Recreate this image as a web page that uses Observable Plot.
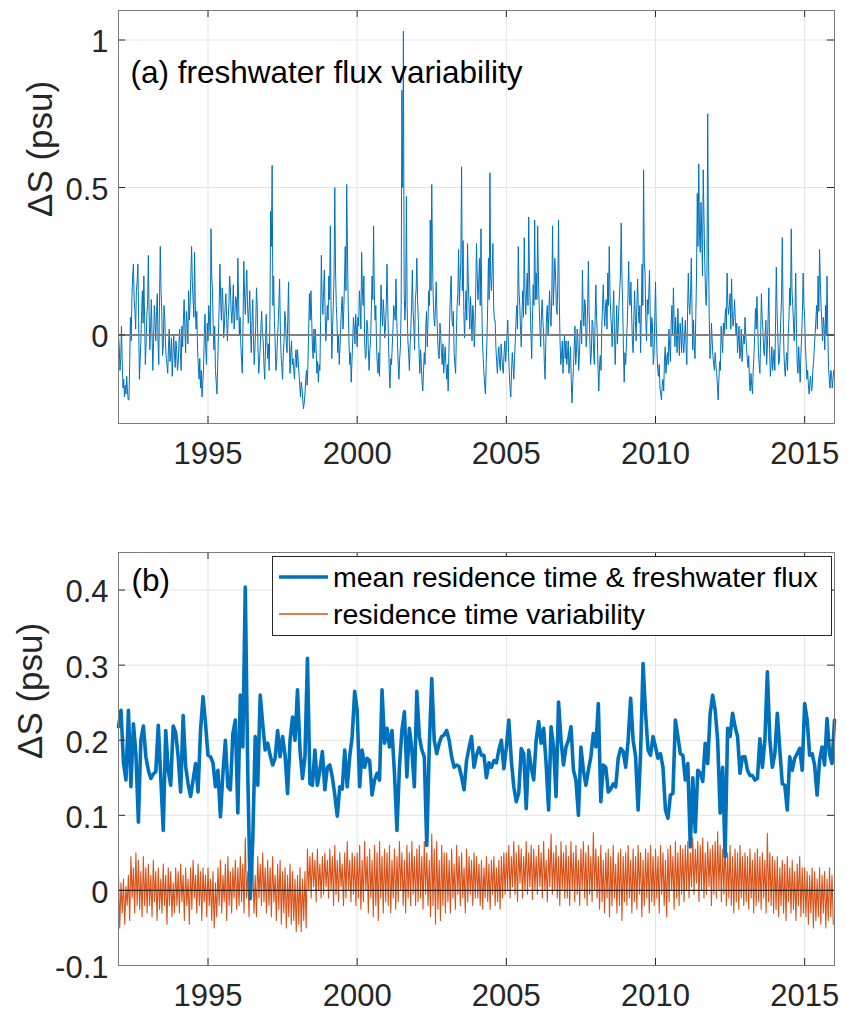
<!DOCTYPE html>
<html>
<head>
<meta charset="utf-8">
<script src="https://cdn.jsdelivr.net/npm/d3@7"></script>
<script src="https://cdn.jsdelivr.net/npm/@observablehq/plot@0.6"></script>
<style>
  html, body { margin: 0; padding: 0; background: #fff; }
  body { width: 846px; height: 1013px; position: relative; overflow: hidden;
         font-family: "Liberation Sans", Arial, Helvetica, sans-serif; }
  #panelA { position: absolute; left: 0; top: 0; }
  #panelB { position: absolute; left: 0; top: 490px; }
  #legend { position: absolute; left: 272px; top: 556px; }
</style>
</head>
<body>
<div id="panelA"></div>
<div id="panelB"></div>
<svg id="legend" width="561" height="80"></svg>
<script>
// ---------------- data ----------------
const startYear = 1992;
const yearTicks = [1995, 2000, 2005, 2010, 2015];
const fluxTicks = [0, 0.5, 1];
const resTicks = [-0.1, 0, 0.1, 0.2, 0.3, 0.4];
const panelTitles = ["(a) freshwater flux variability", "(b)"];
const yLabel = "ΔS (psu)";
const seriesNames = ["mean residence time & freshwater flux", "residence time variability"];
const seriesColors = ["#0072BD", "#D95319"];

// (a) freshwater flux variability: one row per year, 1992 … 2015
const fluxVar = [
  [0.0,-0.04,-0.12,-0.08,0.03,-0.09,-0.18,-0.15,-0.21,-0.17,-0.2,-0.14,-0.19,-0.22,-0.22,-0.1,0.06,-0.02,0.13,0.2,0.24,0.12,0.08,0.02,0.15,0.18,0.24,0.05,-0.15,-0.09,-0.02,0.08,0.15,0.04,0.2,0.06,-0.1,-0.03,0.07,0.1],
  [0.27,0.08,-0.05,0.02,0.12,0.0,-0.12,-0.03,0.1,0.05,-0.02,0.08,0.14,-0.02,-0.1,0.12,0.3,0.15,0.08,-0.07,-0.04,0.1,0.06,-0.03,-0.08,-0.1,-0.13,-0.04,0.02,-0.09,-0.06,-0.01,-0.14,-0.07,0.0,-0.06,-0.11,-0.02,-0.05,-0.12],
  [-0.1,-0.03,0.02,-0.06,-0.12,0.03,-0.04,0.05,0.12,0.02,-0.06,0.08,0.04,-0.03,0.15,0.05,0.1,0.2,0.3,0.18,0.12,0.06,0.28,0.1,0.02,0.08,-0.05,-0.1,-0.15,-0.08,-0.18,-0.12,-0.21,-0.16,-0.12,0.0,0.07,-0.05,-0.1,0.04],
  [-0.02,0.1,0.05,0.0,0.36,0.2,0.15,0.02,-0.05,0.03,-0.12,-0.16,-0.2,-0.1,0.0,0.1,0.24,0.12,0.05,0.16,0.12,-0.01,0.03,0.1,0.14,0.06,-0.02,0.05,0.1,0.2,0.16,0.08,0.04,0.1,0.17,0.02,0.07,0.13,0.12,0.05],
  [0.26,0.12,0.0,0.06,-0.03,-0.09,-0.13,0.05,0.25,0.14,0.07,0.15,0.22,0.1,0.04,0.08,0.15,0.02,-0.06,0.05,0.12,-0.02,-0.1,-0.04,0.03,0.16,0.1,-0.05,-0.13,-0.09,-0.04,0.03,0.08,0.0,-0.02,-0.1,-0.15,-0.05,0.07,-0.02],
  [-0.08,-0.03,-0.12,0.05,0.42,0.3,0.575,0.1,0.2,0.05,-0.02,-0.12,-0.1,-0.02,0.03,0.1,0.19,0.02,-0.07,-0.11,-0.15,-0.06,-0.02,0.08,0.05,-0.03,-0.06,0.06,0.18,-0.02,-0.13,-0.06,-0.02,-0.1,-0.08,-0.12,-0.15,-0.08,-0.05,-0.11],
  [-0.05,-0.09,-0.13,-0.17,-0.21,-0.16,-0.18,-0.22,-0.25,-0.23,-0.2,-0.15,-0.12,-0.17,-0.1,0.02,0.14,0.05,0.15,0.06,-0.04,-0.08,0.02,-0.06,0.02,-0.05,-0.13,-0.09,-0.16,-0.1,-0.12,0.05,0.27,0.12,0.07,0.15,0.22,0.08,-0.02,0.04],
  [0.1,0.05,0.2,0.12,0.37,0.1,-0.08,0.02,0.1,0.2,0.5,0.22,0.1,0.04,-0.06,0.0,-0.1,-0.04,0.03,0.1,0.13,0.02,0.08,0.18,0.3,0.15,0.51,0.28,0.1,-0.02,-0.1,-0.06,-0.16,-0.09,-0.02,0.06,0.03,-0.03,0.07,0.02],
  [-0.04,0.06,0.03,0.15,0.1,0.02,0.28,0.16,0.1,0.2,-0.02,-0.08,-0.07,0.05,0.03,-0.05,-0.12,-0.05,-0.02,0.08,0.2,0.12,0.37,0.15,0.05,0.1,-0.04,-0.1,-0.13,-0.06,-0.14,0.02,0.17,0.08,0.03,0.12,0.07,-0.01,0.03,0.1],
  [0.24,0.1,-0.02,-0.12,-0.18,-0.08,-0.1,-0.04,0.02,0.1,0.08,0.05,0.19,0.06,-0.02,-0.1,-0.15,-0.08,-0.04,0.1,0.83,0.5,1.03,0.15,0.05,0.12,0.47,0.1,-0.02,-0.06,-0.12,-0.03,0.02,0.1,0.22,0.08,0.03,-0.05,0.12,0.15],
  [0.26,0.12,0.05,-0.06,-0.13,-0.05,-0.1,-0.16,-0.19,-0.12,-0.06,-0.1,0.03,0.08,-0.04,0.05,0.15,0.1,0.39,0.15,0.51,0.25,0.12,0.06,0.03,0.1,0.18,0.06,-0.02,-0.07,-0.08,0.04,0.0,-0.06,-0.1,-0.03,-0.13,-0.08,-0.04,-0.1],
  [-0.15,-0.1,-0.19,-0.06,0.05,0.14,0.2,0.06,0.03,0.08,-0.06,-0.1,-0.13,0.0,0.1,0.14,0.29,0.1,0.18,0.25,0.57,0.15,0.32,0.08,-0.01,0.08,0.15,0.05,0.31,0.18,0.1,0.02,0.13,0.06,-0.02,0.1,0.07,-0.04,0.03,0.15],
  [0.31,0.2,0.12,0.18,0.26,0.1,0.36,0.12,-0.02,-0.08,-0.13,-0.17,-0.2,-0.1,-0.02,0.1,0.26,0.12,0.55,0.2,0.15,0.22,0.31,0.1,0.05,0.05,-0.04,-0.09,-0.13,-0.07,-0.04,-0.1,-0.12,-0.03,-0.07,-0.11,-0.13,-0.06,-0.02,-0.09],
  [-0.05,0.0,0.05,-0.06,-0.13,-0.18,-0.21,-0.12,-0.06,-0.1,-0.15,-0.08,-0.02,0.05,0.1,0.02,0.3,0.15,0.1,0.02,-0.04,0.08,0.15,0.06,0.33,0.15,0.07,0.14,0.21,0.1,0.4,0.2,0.1,0.0,-0.08,0.05,0.17,0.1,0.39,0.12],
  [0.21,0.12,0.37,0.2,0.1,0.03,-0.04,0.06,0.12,0.05,0.0,-0.1,-0.15,-0.02,0.07,0.1,0.0,0.08,0.15,0.05,0.03,0.14,0.37,0.1,0.17,0.26,0.2,0.1,0.07,0.18,0.39,0.12,-0.02,-0.1,-0.07,-0.02,-0.13,-0.06,0.0,-0.08],
  [-0.02,-0.1,-0.07,-0.02,-0.13,-0.09,-0.04,-0.15,-0.23,-0.17,-0.11,-0.04,0.03,-0.1,-0.06,0.02,-0.02,-0.12,-0.07,0.02,0.05,-0.03,0.22,0.08,0.03,0.12,0.1,-0.04,0.0,0.1,0.25,0.08,-0.02,-0.1,-0.06,0.05,0.04,-0.05,-0.1,0.05],
  [0.17,0.06,0.0,-0.12,-0.19,-0.1,-0.07,-0.12,0.03,0.1,0.17,0.08,0.03,0.1,0.12,0.02,0.21,0.1,0.3,0.14,0.07,0.02,-0.04,0.08,0.15,0.0,-0.1,0.0,0.1,-0.03,0.03,0.1,0.15,0.2,0.38,0.2,0.1,-0.05,-0.16,-0.06],
  [-0.1,-0.03,0.03,0.12,0.25,0.12,0.1,0.18,0.07,-0.02,-0.06,0.06,0.15,0.05,-0.02,0.1,0.19,0.08,0.04,0.1,-0.06,0.08,0.24,0.1,0.56,0.25,0.21,0.05,-0.02,0.12,0.07,0.14,0.22,0.06,-0.04,0.06,0.03,-0.1,-0.07,0.05],
  [0.18,0.04,-0.06,-0.12,-0.14,-0.1,-0.18,-0.2,-0.22,-0.17,-0.15,-0.19,-0.09,-0.04,-0.13,-0.08,-0.06,-0.1,0.02,-0.04,-0.09,0.04,0.1,0.0,0.16,0.05,-0.04,0.06,0.0,-0.06,0.09,0.0,-0.07,0.04,0.0,-0.06,0.06,-0.03,-0.06,0.0],
  [0.05,-0.04,-0.1,0.08,0.21,0.1,0.07,0.14,0.26,0.08,-0.05,0.05,-0.04,-0.08,0.06,0.2,0.48,0.3,0.58,0.35,0.28,0.45,0.34,0.2,0.56,0.4,0.25,0.15,0.1,0.2,0.75,0.3,0.07,-0.08,-0.05,0.04,-0.02,-0.07,-0.1,-0.12],
  [-0.06,-0.1,-0.13,-0.17,-0.22,-0.15,-0.09,-0.12,0.03,-0.02,-0.06,0.04,0.0,0.05,0.09,0.02,0.21,0.1,0.07,0.1,0.14,0.02,0.19,0.08,0.03,0.06,0.12,0.05,0.0,0.04,-0.06,-0.02,0.03,-0.08,-0.06,0.02,-0.09,-0.04,0.0,-0.03],
  [0.06,0.0,-0.04,-0.08,-0.11,-0.07,-0.16,-0.19,-0.13,-0.17,-0.2,-0.12,-0.07,0.0,0.09,0.02,0.13,0.04,-0.06,-0.1,-0.13,0.0,0.14,0.06,0.02,-0.05,-0.07,0.0,0.05,-0.1,-0.04,0.06,0.16,-0.05,-0.14,-0.1,-0.04,-0.12,-0.09,-0.05],
  [-0.12,0.05,0.23,0.08,0.0,-0.1,-0.09,-0.03,0.06,0.12,0.33,0.1,-0.04,-0.11,-0.14,-0.09,-0.06,-0.12,0.0,0.06,0.16,0.1,0.36,0.15,0.1,0.04,-0.02,0.08,0.21,0.02,-0.1,-0.13,-0.04,-0.1,-0.16,-0.06,0.0,0.08,0.21,0.1],
  [0.06,-0.04,-0.09,-0.15,-0.12,-0.17,-0.2,-0.16,-0.14,-0.19,-0.18,-0.12,-0.09,-0.04,0.0,0.05,0.1,0.02,0.2,0.08,0.29,0.18,0.1,0.04,-0.02,0.06,0.03,-0.05,0.1,0.0,0.2,0.02,-0.11,-0.15,-0.18,-0.12,-0.13,-0.18,-0.15,-0.12]
];

// (b) mean residence time & freshwater flux: monthly from Jan 1992 (last value Jan 2016)
const meanRes = [
  0.218,0.24,0.17,0.147,0.24,0.138,0.222,0.182,0.091,0.2,0.219,0.178,
  0.16,0.149,0.155,0.158,0.22,0.15,0.08,0.213,0.16,0.14,0.219,0.21,
  0.178,0.131,0.233,0.165,0.142,0.125,0.147,0.169,0.131,0.213,0.258,0.222,
  0.18,0.178,0.17,0.138,0.16,0.098,0.156,0.2,0.138,0.134,0.209,0.227,
  0.103,0.26,0.191,0.404,0.156,-0.011,0.067,0.205,0.14,0.26,0.222,0.187,
  0.196,0.18,0.167,0.176,0.213,0.178,0.205,0.18,0.129,0.2,0.231,0.2,
  0.267,0.187,0.149,0.178,0.309,0.142,0.14,0.187,0.14,0.16,0.185,0.134,
  0.164,0.167,0.151,0.127,0.099,0.138,0.135,0.187,0.138,0.178,0.205,0.265,
  0.24,0.138,0.187,0.164,0.176,0.173,0.127,0.147,0.156,0.147,0.267,0.196,
  0.216,0.191,0.213,0.156,0.08,0.164,0.213,0.238,0.151,0.216,0.187,0.138,
  0.265,0.205,0.187,0.178,0.06,0.191,0.282,0.2,0.182,0.196,0.205,0.207,
  0.213,0.2,0.178,0.164,0.167,0.165,0.151,0.134,0.173,0.19,0.205,0.164,
  0.18,0.19,0.18,0.18,0.15,0.17,0.164,0.173,0.17,0.187,0.2,0.162,
  0.19,0.227,0.173,0.138,0.118,0.13,0.189,0.182,0.109,0.187,0.164,0.147,
  0.2,0.225,0.196,0.216,0.169,0.107,0.218,0.191,0.125,0.251,0.2,0.167,
  0.191,0.2,0.218,0.16,0.147,0.1,0.191,0.16,0.14,0.16,0.178,0.209,
  0.191,0.249,0.118,0.167,0.164,0.131,0.135,0.142,0.138,0.176,0.189,0.185,
  0.164,0.2,0.256,0.2,0.178,0.107,0.182,0.302,0.236,0.187,0.18,0.205,
  0.191,0.176,0.182,0.164,0.107,0.096,0.127,0.129,0.227,0.205,0.182,0.18,
  0.147,0.169,0.058,0.15,0.078,0.16,0.156,0.145,0.196,0.169,0.236,0.26,
  0.24,0.2,0.103,0.164,0.045,0.216,0.205,0.236,0.218,0.205,0.156,0.178,
  0.178,0.16,0.153,0.153,0.147,0.149,0.202,0.164,0.2,0.291,0.2,0.164,
  0.182,0.236,0.187,0.142,0.14,0.107,0.178,0.16,0.176,0.182,0.189,0.16,
  0.249,0.227,0.18,0.182,0.167,0.127,0.173,0.191,0.167,0.229,0.182,0.169,
  0.227
];

// (b) residence time variability: one row per year, 1992 … 2015
const resVar = [
  [0.02,-0.05,0.01,-0.03,0.015,-0.045,0.005,-0.02,0.02,-0.04,0.045,-0.01,0.03,-0.03,0.05,-0.02,0.04,-0.025,0.025,-0.035,0.045,-0.02,0.03,-0.03],
  [0.035,-0.02,0.02,-0.035,0.04,-0.015,0.025,-0.04,0.03,-0.025,0.015,-0.03,0.035,-0.02,0.02,-0.045,0.03,-0.02,0.025,-0.035,0.01,-0.03,0.03,-0.02],
  [0.025,-0.03,0.035,-0.015,0.02,-0.04,0.03,-0.02,0.015,-0.045,0.03,-0.025,0.04,-0.01,0.02,-0.03,0.035,-0.02,0.025,-0.04,0.03,-0.015,0.02,-0.035],
  [0.03,-0.02,0.015,-0.04,0.025,-0.05,0.01,-0.035,0.03,-0.02,0.04,-0.03,0.02,-0.015,0.035,-0.04,0.045,-0.02,0.025,-0.03,0.03,-0.01,0.04,-0.025],
  [0.03,-0.02,0.045,-0.015,0.035,-0.03,0.07,-0.01,0.025,-0.035,0.05,0.0,0.04,-0.03,0.02,-0.035,0.045,-0.01,0.035,-0.02,0.05,-0.015,0.03,-0.03],
  [0.04,-0.02,0.03,-0.035,0.045,-0.015,0.02,-0.04,0.035,-0.025,0.04,-0.045,0.025,-0.03,0.03,-0.05,0.02,-0.035,0.035,-0.045,0.025,-0.04,0.015,-0.055],
  [0.02,-0.045,0.03,-0.055,0.015,-0.04,0.025,-0.05,0.055,0.0,0.045,-0.01,0.05,0.005,0.04,-0.015,0.055,0.0,0.035,-0.01,0.045,-0.005,0.05,0.005],
  [0.04,-0.01,0.055,0.0,0.045,-0.02,0.06,-0.005,0.04,-0.015,0.05,0.005,0.035,-0.02,0.05,-0.01,0.065,0.0,0.04,-0.015,0.05,-0.005,0.045,-0.02],
  [0.05,-0.01,0.06,-0.025,0.04,-0.015,0.065,0.0,0.045,-0.03,0.055,-0.01,0.04,-0.035,0.06,-0.02,0.05,-0.04,0.065,-0.01,0.045,-0.03,0.055,-0.015],
  [0.05,-0.02,0.06,-0.03,0.04,-0.01,0.055,-0.025,0.045,-0.015,0.065,0.0,0.05,-0.02,0.04,-0.03,0.06,-0.01,0.05,-0.02,0.065,-0.005,0.045,-0.02],
  [0.055,-0.015,0.06,-0.01,0.045,-0.025,0.065,-0.005,0.05,-0.02,0.04,-0.035,0.075,-0.02,0.055,-0.045,0.065,-0.025,0.04,-0.04,0.06,-0.02,0.05,-0.03],
  [0.05,-0.015,0.04,-0.03,0.055,-0.01,0.035,-0.025,0.06,-0.005,0.045,-0.02,0.05,-0.01,0.03,-0.03,0.055,-0.015,0.045,-0.005,0.04,-0.02,0.05,-0.01],
  [0.045,-0.01,0.035,-0.02,0.04,-0.025,0.03,-0.01,0.045,-0.015,0.035,-0.025,0.04,-0.005,0.045,-0.02,0.03,-0.015,0.04,-0.025,0.045,-0.01,0.05,-0.005],
  [0.05,0.0,0.06,-0.01,0.045,0.005,0.065,-0.005,0.05,-0.015,0.06,0.01,0.055,-0.01,0.045,0.0,0.065,-0.005,0.05,0.005,0.06,-0.012,0.055,0.0],
  [0.045,-0.005,0.06,0.005,0.05,-0.01,0.065,0.0,0.04,-0.015,0.055,0.005,0.075,-0.005,0.05,0.0,0.06,-0.01,0.045,-0.02,0.065,0.0,0.05,-0.01],
  [0.06,-0.01,0.045,-0.02,0.065,0.0,0.05,-0.015,0.06,-0.005,0.04,-0.02,0.055,0.0,0.065,-0.01,0.05,-0.02,0.06,-0.005,0.045,-0.015,0.077,0.0],
  [0.055,-0.01,0.045,-0.025,0.06,-0.015,0.04,-0.03,0.05,-0.01,0.055,-0.035,0.045,-0.02,0.06,-0.01,0.035,-0.03,0.05,-0.02,0.055,-0.04,0.045,-0.015],
  [0.05,-0.02,0.06,-0.01,0.04,-0.03,0.055,-0.015,0.045,-0.025,0.06,-0.005,0.05,-0.035,0.04,-0.02,0.055,-0.01,0.05,-0.03,0.06,-0.015,0.045,-0.02],
  [0.055,-0.01,0.045,-0.03,0.06,-0.005,0.05,-0.02,0.04,-0.035,0.055,-0.015,0.06,0.0,0.045,-0.025,0.065,-0.01,0.05,-0.02,0.06,-0.005,0.055,-0.015],
  [0.06,0.0,0.065,-0.01,0.05,0.005,0.07,-0.005,0.055,0.01,0.065,-0.015,0.06,0.0,0.07,-0.01,0.05,-0.005,0.065,0.005,0.055,-0.02,0.06,-0.005],
  [0.065,-0.01,0.078,0.0,0.06,-0.015,0.055,-0.005,0.07,-0.02,0.05,-0.01,0.06,-0.02,0.045,-0.03,0.055,-0.015,0.05,-0.025,0.06,-0.01,0.045,-0.02],
  [0.05,-0.015,0.045,-0.025,0.055,-0.01,0.04,-0.03,0.05,-0.02,0.055,-0.015,0.045,-0.025,0.05,-0.01,0.04,-0.03,0.076,-0.015,0.05,-0.02,0.045,-0.03],
  [0.04,-0.025,0.045,-0.035,0.03,-0.02,0.04,-0.03,0.035,-0.04,0.045,-0.015,0.03,-0.03,0.04,-0.025,0.025,-0.04,0.035,-0.02,0.045,-0.035,0.03,-0.03],
  [0.03,-0.035,0.025,-0.045,0.02,-0.03,0.03,-0.05,0.025,-0.04,0.015,-0.035,0.03,-0.045,0.02,-0.03,0.025,-0.05,0.015,-0.04,0.03,-0.035,0.02,-0.045]
];

// ---------------- tables ----------------
const fromRows = rows => rows.flatMap((row, y) => row.map((v, j) => ({t: startYear + y + j / row.length, v})));
const fluxData = fromRows(fluxVar);
const resData = fromRows(resVar);
const meanData = meanRes.map((v, i) => ({t: startYear + i / 12, v}));

// ---------------- style ----------------
const FONT = '"Liberation Sans", Arial, Helvetica, sans-serif';
const INK = "#262626";
const W = 846, ML = 118, MR = 12;
const innerW = W - ML - MR;
const fmtY = d => d === 0 ? "0" : String(d);
const TICK = 7;

function boxMarks(innerH, xt, yt) {
  return [
    Plot.ruleX(xt, {stroke: INK, strokeWidth: 1, insetTop: innerH - TICK}),
    Plot.ruleX(xt, {stroke: INK, strokeWidth: 1, insetBottom: innerH - TICK}),
    Plot.ruleY(yt, {stroke: INK, strokeWidth: 1, insetRight: innerW - TICK}),
    Plot.ruleY(yt, {stroke: INK, strokeWidth: 1, insetLeft: innerW - TICK}),
    Plot.frame({stroke: "#7a7a7a", strokeWidth: 1})
  ];
}

function axes(yt, labelDx) {
  return [
    Plot.axisX(yearTicks, {tickSize: 0, tickPadding: 18, tickFormat: d => String(d),
      fontSize: 31, fill: INK, label: null}),
    Plot.axisY(yt, {tickSize: 0, tickPadding: 10, tickFormat: fmtY, dy: 2.5,
      fontSize: 31, fill: INK, label: null}),
    Plot.text([yLabel], {text: d => d, frameAnchor: "left", dx: labelDx, rotate: -90,
      fontSize: 35, fill: INK})
  ];
}

// ---------------- panel (a) ----------------
const hA = 490, mtA = 10, mbA = 67;
const plotA = Plot.plot({
  width: W, height: hA,
  marginLeft: ML, marginRight: MR, marginTop: mtA, marginBottom: mbA,
  x: {domain: [1992, 2016], label: null},
  y: {domain: [-0.3, 1.1], label: null},
  style: {fontFamily: FONT, fontSize: "31px", color: INK, background: "transparent", overflow: "visible"},
  marks: [
    Plot.gridX(yearTicks, {stroke: "#e3e3e3", strokeOpacity: 1}),
    Plot.gridY(fluxTicks, {stroke: "#e3e3e3", strokeOpacity: 1}),
    Plot.lineY(fluxData, {x: "t", y: "v", stroke: seriesColors[0], strokeWidth: 1}),
    Plot.ruleY([0], {stroke: "#808080", strokeWidth: 2}),
    ...boxMarks(hA - mtA - mbA, yearTicks, fluxTicks),
    ...axes(fluxTicks, -78),
    Plot.text([panelTitles[0]], {text: d => d, frameAnchor: "top-left", dx: 12, dy: 50,
      lineAnchor: "top", textAnchor: "start", fontSize: 31.5, fill: "#000"})
  ]
});
document.getElementById("panelA").appendChild(plotA);

// ---------------- panel (b) ----------------
const hB = 523, mtB = 62, mbB = 48;
const plotB = Plot.plot({
  width: W, height: hB,
  marginLeft: ML, marginRight: MR, marginTop: mtB, marginBottom: mbB,
  x: {domain: [1992, 2016], label: null},
  y: {domain: [-0.1, 0.45], label: null},
  style: {fontFamily: FONT, fontSize: "31px", color: INK, background: "transparent", overflow: "visible"},
  marks: [
    Plot.gridX(yearTicks, {stroke: "#e3e3e3", strokeOpacity: 1}),
    Plot.gridY(resTicks, {stroke: "#e3e3e3", strokeOpacity: 1}),
    Plot.lineY(resData, {x: "t", y: "v", stroke: seriesColors[1], strokeWidth: 1.1}),
    Plot.lineY(meanData, {x: "t", y: "v", stroke: seriesColors[0], strokeWidth: 3.6,
      strokeLinejoin: "round"}),
    Plot.ruleY([0], {stroke: INK, strokeWidth: 1.2}),
    ...boxMarks(hB - mtB - mbB, yearTicks, resTicks),
    ...axes(resTicks, -88),
    Plot.text([panelTitles[1]], {text: d => d, frameAnchor: "top-left", dx: 13, dy: 16,
      lineAnchor: "top", textAnchor: "start", fontSize: 31.5, fill: "#000"})
  ]
});
document.getElementById("panelB").appendChild(plotB);

// ---------------- legend ----------------
const leg = d3.select("#legend");
leg.append("rect").attr("x", 0.5).attr("y", 0.5).attr("width", 559).attr("height", 79)
  .attr("fill", "#fff").attr("stroke", INK).attr("stroke-width", 1);
const rows = [21, 58];
const widths = [3.6, 1.5];
seriesNames.forEach((name, i) => {
  leg.append("line").attr("x1", 7).attr("x2", 56).attr("y1", rows[i]).attr("y2", rows[i])
    .attr("stroke", seriesColors[i]).attr("stroke-width", widths[i]);
  leg.append("text").attr("x", 61).attr("y", rows[i]).attr("dy", "0.35em")
    .attr("font-family", FONT).attr("font-size", 28.5).attr("fill", "#000").text(name);
});
</script>
</body>
</html>
